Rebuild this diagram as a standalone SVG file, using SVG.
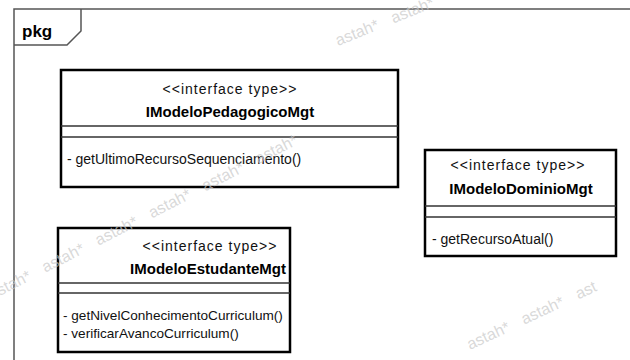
<svg xmlns="http://www.w3.org/2000/svg" width="630" height="360" viewBox="0 0 630 360">
<style>
.box{fill:#fff;stroke:#000;stroke-width:2.5}
.sep{stroke:#333;stroke-width:1.3}
.st{font-family:"Liberation Sans",Arial,sans-serif;font-size:14px;letter-spacing:1px;fill:#111;text-anchor:middle}
.nm{font-family:"Liberation Sans",Arial,sans-serif;font-size:15px;font-weight:bold;fill:#000;text-anchor:middle}
.op{font-family:"Liberation Sans",Arial,sans-serif;font-size:14px;fill:#111}
.op2{font-family:"Liberation Sans",Arial,sans-serif;font-size:13.6px;fill:#111}
.wm{font-family:"Liberation Sans",Arial,sans-serif;font-size:16px;word-spacing:10px;fill:#c8c8c8;fill-opacity:0.7}
</style>
<rect width="630" height="360" fill="#fff"/>
<g id="frame">
<path d="M14,360 V9 H630" fill="none" stroke="#555" stroke-width="1.5"/>
<path d="M14,45 H67 L81,31 V9" fill="none" stroke="#555" stroke-width="1.5"/>
<text x="22" y="37" font-family="'Liberation Sans',Arial,sans-serif" font-size="17" font-weight="bold" fill="#000">pkg</text>
</g>
<g id="connectors"/>
<g id="IModeloPedagogicoMgt">
<rect class="box" x="61" y="70" width="337" height="117"/>
<line class="sep" x1="61" y1="126" x2="398" y2="126"/>
<line class="sep" x1="61" y1="137" x2="398" y2="137"/>
<text class="st" x="230" y="94">&lt;&lt;interface type&gt;&gt;</text>
<text class="nm" x="230" y="117">IModeloPedagogicoMgt</text>
<text class="op" x="67" y="164">- getUltimoRecursoSequenciamento()</text>
</g>
<g id="IModeloEstudanteMgt">
<rect class="box" x="58" y="228" width="232" height="124"/>
<line class="sep" x1="58" y1="283" x2="290" y2="283"/>
<line class="sep" x1="58" y1="293" x2="290" y2="293"/>
<text class="st" x="210" y="251">&lt;&lt;interface type&gt;&gt;</text>
<text class="nm" x="208" y="274">IModeloEstudanteMgt</text>
<text class="op2" x="63" y="320">- getNivelConhecimentoCurriculum()</text>
<text class="op2" x="63" y="338">- verificarAvancoCurriculum()</text>
</g>
<g id="IModeloDominioMgt">
<rect class="box" x="425" y="150" width="191" height="106"/>
<line class="sep" x1="425" y1="206" x2="616" y2="206"/>
<line class="sep" x1="425" y1="217" x2="616" y2="217"/>
<text class="st" x="518" y="170">&lt;&lt;interface type&gt;&gt;</text>
<text class="nm" x="521" y="194">IModeloDominioMgt</text>
<text class="op" x="432" y="244">- getRecursoAtual()</text>
</g>
<g id="watermark">
<text class="wm" transform="translate(338,46) rotate(-22)">astah* astah*</text>
<text class="wm" transform="translate(-8,300) rotate(-27)">astah* astah* astah* astah* astah* astah*</text>
<text class="wm" transform="translate(470,350) rotate(-25)">astah* astah* ast</text>
</g>
</svg>
